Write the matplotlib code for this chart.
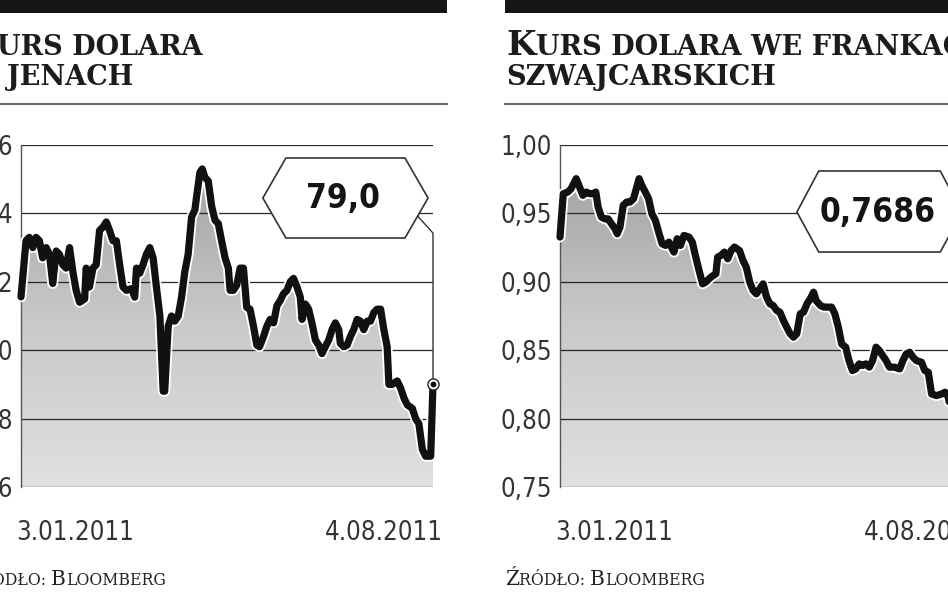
import matplotlib
matplotlib.use('Agg')
import matplotlib.pyplot as plt
import matplotlib.patheffects as pe
import numpy as np
from matplotlib.colors import LinearSegmentedColormap
from matplotlib.patches import Polygon, Rectangle
from matplotlib.lines import Line2D

# --- dane: kurs USD/JPY ---
jpy_days = [0, 2.6, 4.3, 6.1, 7.8, 9.5, 11.2, 13, 14.7, 16.4,
            18.2, 19.9, 21.6, 23.3, 25.1, 26.8, 28.5, 30.3, 32.9, 33.7,
            35.4, 37.2, 38.9, 40.6, 42.4, 44.1, 45.8, 47.5, 49.3, 51,
            52.7, 54.5, 57.1, 58.8, 59.7, 61.4, 63.1, 64.8, 66.6, 68.3,
            70, 71.8, 73.5, 74.3, 76.1, 77.8, 79.5, 81.3, 83, 84.7,
            86.4, 88.2, 89.9, 90.8, 92.5, 93.7, 95.1, 96.8, 98.6, 100.3,
            102, 103.7, 105.5, 107.2, 108.1, 109.8, 111.5, 113.3, 115, 116.7,
            118.4, 120.2, 121.9, 123.3, 125.4, 127.1, 128.8, 130.6, 132.3, 134,
            135.7, 137.5, 139.2, 140.9, 142.7, 144.4, 145.3, 147, 148.7, 150.4,
            152.2, 153.9, 155.6, 157.3, 159.1, 160.8, 162.5, 164.3, 165.1, 166.9,
            168.6, 170.3, 172, 173.8, 175.5, 177.2, 179, 180.7, 182.4, 184.1,
            185.9, 187.6, 189.3, 190.2, 191.9, 194.5, 196.2, 198, 199.7, 202.3,
            204, 205.7, 207.5, 209.2, 211.8, 213]
jpy_vals = [81.56, 83.2, 83.3, 83.0, 83.3, 83.2, 82.7, 83.0, 82.8, 81.95,
            82.9, 82.8, 82.5, 82.4, 83.0, 82.3, 81.75, 81.4, 81.5, 82.4,
            81.85, 82.4, 82.5, 83.5, 83.6, 83.75, 83.5, 83.2, 83.2, 82.5,
            81.85, 81.75, 81.8, 81.55, 82.4, 82.25, 82.5, 82.8, 83.0, 82.7,
            81.85, 81.0, 78.8, 78.8, 80.7, 81.0, 80.85, 81.0, 81.55, 82.3,
            82.8, 83.9, 84.1, 84.5, 85.2, 85.3, 85.05, 84.95, 84.2, 83.8,
            83.7, 83.2, 82.7, 82.4, 81.75, 81.75, 81.9, 82.4, 82.4, 81.25,
            81.2, 80.7, 80.15, 80.1, 80.4, 80.7, 80.9, 80.8, 81.3, 81.45,
            81.65, 81.75, 82.0, 82.1, 81.85, 81.55, 80.9, 81.35, 81.2, 80.8,
            80.3, 80.15, 79.9, 80.1, 80.3, 80.6, 80.8, 80.6, 80.2, 80.1,
            80.15, 80.4, 80.6, 80.9, 80.85, 80.6, 80.85, 80.85, 81.1, 81.2,
            81.2, 80.6, 80.1, 79.0, 79.0, 79.1, 78.9, 78.6, 78.4, 78.3,
            78.0, 77.85, 77.1, 76.9, 76.9, 79.0]
jpy_ticks = [76, 78, 80, 82, 84, 86]
jpy_labels = ['76', '78', '80', '82', '84', '86']

# --- dane: kurs USD/CHF ---
chf_days = [0, 1.7, 4.0, 5.7, 8.4, 10.1, 11.8, 13.6, 15.3, 17.1,
            18.5, 19.7, 21.4, 23.2, 24.9, 26.6, 28.4, 29.6, 31.0, 32.7,
            34.5, 36.2, 38.0, 39.7, 40.9, 42.3, 44.1, 45.8, 47.5, 49.3,
            51.0, 52.8, 54.5, 56.3, 58.0, 58.9, 60.6, 62.3, 64.1, 66.7,
            68.4, 70.2, 71.9, 73.7, 75.4, 78.0, 80.6, 81.5, 83.2, 85.0,
            86.7, 88.5, 90.2, 92.8, 94.6, 96.3, 98.1, 99.8, 101.5, 103.3,
            105.0, 106.8, 108.5, 110.2, 112.0, 113.7, 115.5, 117.2, 119.0, 120.7,
            122.4, 124.2, 125.9, 127.7, 129.4, 131.1, 132.4, 134.6, 136.4, 138.1,
            140.4, 142.1, 143.9, 145.6, 147.7, 149.4, 151.2, 152.9, 154.7, 156.4,
            158.1, 159.9, 161.6, 163.4, 165.1, 166.8, 168.6, 170.3, 172.9, 175.6,
            177.3, 179.0, 180.8, 182.5, 184.3, 186.9, 188.6, 190.4, 192.1, 194.7,
            197.3, 199.1, 200.8, 202.0, 205.2, 208.3, 210.7, 213.0]
chf_vals = [0.9327, 0.9644, 0.9656, 0.968, 0.9754, 0.9693, 0.9632, 0.9656, 0.9644, 0.9644,
            0.9656, 0.9546, 0.9473, 0.946, 0.946, 0.9424, 0.9388, 0.9351, 0.94, 0.9559,
            0.9583, 0.9583, 0.9607, 0.9693, 0.9754, 0.9705, 0.9656, 0.9607, 0.9498, 0.9449,
            0.9363, 0.9278, 0.9266, 0.929, 0.9241, 0.9217, 0.9315, 0.9266, 0.9339, 0.9327,
            0.929, 0.918, 0.9083, 0.8985, 0.8998, 0.9034, 0.9059, 0.918, 0.9193, 0.9217,
            0.9168, 0.9229, 0.9254, 0.9229, 0.9156, 0.9107, 0.8998, 0.8937, 0.8912, 0.8949,
            0.8985, 0.8888, 0.8839, 0.8827, 0.879, 0.8778, 0.8717, 0.8668, 0.862, 0.8595,
            0.862, 0.8766, 0.8778, 0.8839, 0.8876, 0.8924, 0.8863, 0.8827, 0.8815, 0.8815,
            0.8815, 0.8766, 0.8668, 0.8546, 0.8522, 0.8424, 0.8351, 0.8363, 0.84, 0.8388,
            0.84, 0.8376, 0.8424, 0.8522, 0.8498, 0.8461, 0.8424, 0.8376, 0.8376, 0.8363,
            0.8424, 0.8473, 0.8485, 0.8449, 0.8424, 0.8412, 0.8351, 0.8339, 0.818, 0.8168,
            0.818, 0.8193, 0.8156, 0.8034, 0.793, 0.782, 0.773, 0.7686]
chf_ticks = [0.75, 0.80, 0.85, 0.90, 0.95, 1.00]
chf_labels = ['0,75', '0,80', '0,85', '0,90', '0,95', '1,00']

date_first = '3.01.2011'
date_last = '4.08.2011'

W, H = 948, 593
NUM_FONT = dict(family='DejaVu Sans', stretch='condensed')
SLAB = ['DejaVu Serif']

fig = plt.figure(figsize=(W / 100, H / 100), dpi=100)
renderer = fig.canvas.get_renderer()
cmap = LinearSegmentedColormap.from_list('szary', ['#e0e0e0', '#c8c8c8', '#9c9c9c'])


def kapitaliki(x, y, czesci, **kw):
    # tekst "kapitalikami": kawalki o roznych rozmiarach jeden za drugim
    for s, size in czesci:
        t = fig.text(x / W, 1 - y / H, s, fontsize=size, ha='left', va='baseline', **kw)
        x += t.get_window_extent(renderer=renderer).width


def panel(x0, days, vals, ticks, labels, tytul1, tytul2, napis, box):
    fig.add_artist(Rectangle((x0 / W, 1 - 13 / H), 481 / W, 13 / H,
                             transform=fig.transFigure, color='#161616', lw=0))
    fig.add_artist(Line2D([x0 / W, (x0 + 481) / W], [1 - 104 / H] * 2,
                          transform=fig.transFigure, color='#6a6a6a', lw=1.5))
    kapitaliki(x0 + 1, 55, tytul1, family=SLAB, weight='bold', color='#1c1c1c')
    kapitaliki(x0 + 1, 85, tytul2, family=SLAB, weight='bold', color='#1c1c1c')
    kapitaliki(x0, 585, [('Ź', 14.5), ('RÓDŁO: ', 11.3), ('B', 14.5), ('LOOMBERG', 11.3)],
               family=SLAB, color='#222222')

    ax = fig.add_axes([(x0 + 55) / W, 106 / H, 412 / W, 342 / H])
    ylo, yhi = ticks[0], ticks[-1]
    ax.set_xlim(days[0], days[-1])
    ax.set_ylim(ylo, yhi)

    wyp = ax.fill_between(days, vals, ylo, facecolor='none', edgecolor='none')
    grad = np.linspace(0, 1, 256).reshape(-1, 1)
    im = ax.imshow(grad, extent=[days[0], days[-1], ylo, yhi], origin='lower',
                   cmap=cmap, aspect='auto', zorder=1)
    im.set_clip_path(wyp.get_paths()[0], transform=ax.transData)

    for t in ticks:
        ax.axhline(t, color='#262626', lw=0.9, zorder=2)

    ax.plot(days, vals, color='#111111', lw=5.2, solid_joinstyle='round',
            solid_capstyle='round', zorder=3, clip_on=False,
            path_effects=[pe.Stroke(linewidth=7.8, foreground='white'), pe.Normal()])

    for s in ['top', 'right', 'bottom']:
        ax.spines[s].set_visible(False)
    ax.spines['left'].set_color('#555555')
    ax.spines['left'].set_linewidth(1)
    ax.spines['left'].set_zorder(2.5)
    ax.set_xticks([])
    ax.set_yticks(ticks, labels)
    ax.tick_params(axis='y', length=0, pad=6, labelsize=18.5, labelcolor='#333333')
    for lab in ax.get_yticklabels():
        lab.set_family(NUM_FONT['family'])
        lab.set_stretch(NUM_FONT['stretch'])

    ax.text(-0.012, -0.134, date_first, transform=ax.transAxes, ha='left', va='center',
            fontsize=18.5, color='#333333', **NUM_FONT)
    ax.text(1.024, -0.134, date_last, transform=ax.transAxes, ha='right', va='center',
            fontsize=18.5, color='#333333', **NUM_FONT)

    # etykieta z ostatnim kursem
    xl, xr, yc, yt, yb, ind = box
    hexa = Polygon([(xl, yc), (xl + ind, yt), (xr - ind, yt), (xr, yc), (xr - ind, yb),
                    (xl + ind, yb)], closed=True, transform=ax.transAxes,
                   facecolor='white', edgecolor='#333333', lw=1.2, zorder=4, clip_on=False)
    ax.add_patch(hexa)
    ax.text((xl + xr) / 2 - 0.005, yc, napis, transform=ax.transAxes, ha='center',
            va='center', fontsize=24, weight='bold', color='#141414', zorder=5, **NUM_FONT)

    yend = (vals[-1] - ylo) / (yhi - ylo)
    sx, sy = xr - ind * 0.45, yc - (yc - yb) * 0.45
    ax.plot([sx, 1.0, 1.0], [sy, sy - 0.05, yend], transform=ax.transAxes,
            color='#333333', lw=1, zorder=3.5, clip_on=False)
    ax.plot(days[-1], vals[-1], 'o', ms=8, mfc='white', mec='#222222', mew=1,
            zorder=6, clip_on=False)
    ax.plot(days[-1], vals[-1], 'o', ms=3.2, color='#111111', zorder=7, clip_on=False)
    return ax


panel(-34, jpy_days, jpy_vals, jpy_ticks, jpy_labels,
      [('K', 24.5), ('URS DOLARA', 19.5)], [('W JENACH', 19.5)],
      '79,0', (0.587, 0.988, 0.845, 0.962, 0.728, 0.056))
panel(505, chf_days, chf_vals, chf_ticks, chf_labels,
      [('K', 24.5), ('URS DOLARA WE FRANKACH', 19.5)], [('SZWAJCARSKICH', 19.5)],
      '0,7686', (0.575, 0.976, 0.804, 0.924, 0.687, 0.053))

fig.savefig('out.png', dpi=100)
